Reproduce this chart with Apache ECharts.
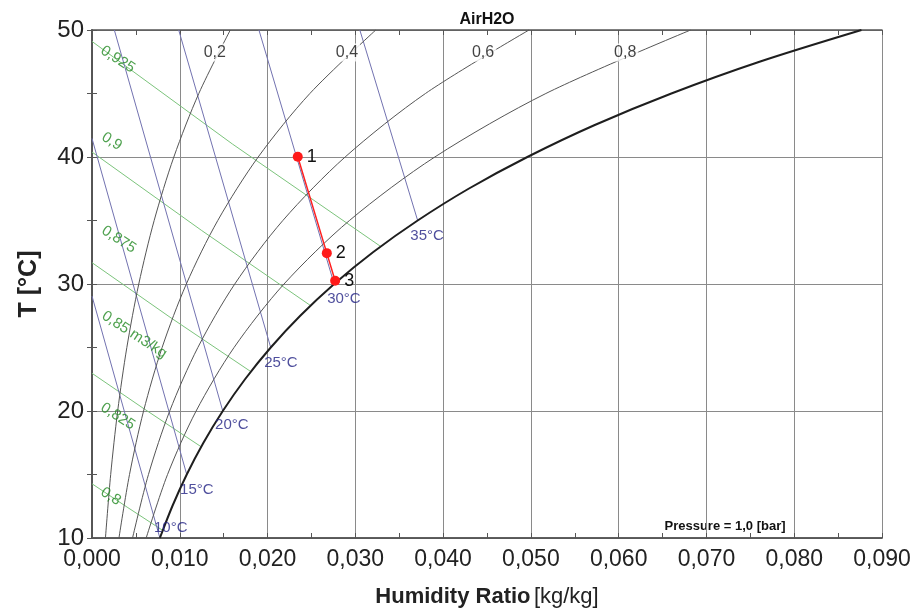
<!DOCTYPE html>
<html><head><meta charset="utf-8">
<script src="https://cdn.jsdelivr.net/npm/echarts@6/dist/echarts.min.js"></script>
<style>html,body{margin:0;padding:0;background:#fff}#c{width:916px;height:615px}</style>
</head><body><div id="c"></div><script>
// ---- axis ticks ----
const xTickLabels = ['0,000','0,010','0,020','0,030','0,040','0,050','0,060','0,070','0,080','0,090'];
const yTickLabels = ['10','20','30','40','50'];

// ---- saturation curve (RH = 1.0) ----
const satT = [10,12.5,15,17.5,20,22.5,25,27.5,30,32.5,35,37.5,40,42.5,45,47.5,50];
const satW = [0.007734,0.009150,0.010794,0.012696,0.014898,0.017433,0.020362,0.023722,0.027586,0.032011,0.037101,0.042902,0.049597,0.057214,0.066003,0.076045,0.087658];

// ---- relative humidity curves ----
const rhT = [10,15,20,25,30,35,40,45,50];
const rh20W = [0.001532,0.002129,0.002924,0.003969,0.005328,0.007082,0.009324,0.012168,0.015755];
const rh40W = [0.003071,0.004273,0.005875,0.007988,0.010748,0.014328,0.018933,0.024821,0.032329];
const rh60W = [0.004618,0.006432,0.008854,0.012059,0.016263,0.021742,0.028838,0.037989,0.049788];
const rh80W = [0.006172,0.008605,0.011862,0.016184,0.021875,0.029331,0.039055,0.051705,0.068203];
const rhLabelText = ['0,2','0,4','0,6','0,8'];
const rhLabelW = [0.01399,0.02904,0.04455,0.06074];
const rhLabelT = [48.23,48.23,48.23,48.23];

// ---- wet bulb lines [W, T] ----
const wb10 = [[0.007734,10],[0,29.05]];
const wb15 = [[0.010794,15],[0,41.46]];
const wb20 = [[0.014898,20],[0.002544,50]];
const wb25 = [[0.020362,25],[0.009878,50]];
const wb30 = [[0.027586,30],[0.019019,50]];
const wb35 = [[0.037101,35],[0.030513,50]];
const wbLabelText = ['10°C','15°C','20°C','25°C','30°C','35°C'];
const wbLabelW = [0.00897,0.01194,0.01593,0.02152,0.02870,0.03817];
const wbLabelT = [10.83,13.82,18.94,23.82,28.86,33.82];

// ---- specific volume lines [W, T] ----
const v825 = [[0,14.27],[0.004,12.43],[0.00805,10.6]];
const v850 = [[0,22.97],[0.006,20.14],[0.0124,17.2]];
const v875 = [[0,31.68],[0.009,27.33],[0.0181,23.1]];
const v900 = [[0,40.39],[0.0125,34.21],[0.0249,28.3]];
const v925 = [[0,49.10],[0.016,41.02],[0.0329,32.95]];
const volLabelText = ['0,925','0,9','0,875','0,85 m3/kg','0,825','0,8'];
const volLabelW = [0.00293,0.00225,0.00304,0.00483,0.00293,0.00213];
const volLabelT = [47.68,41.22,33.5,26.0,19.57,13.27];

// ---- process states ----
const stateNames = ['1','2','3'];
const stateW = [0.02344,0.02675,0.0277];
const stateT = [40.02,32.43,30.26];

const FONT = '"Liberation Sans", Arial, sans-serif';
const zip = (w, t) => w.map((v, i) => [v, t[i]]);

function curve(data, color, width, smooth) {
  return { type: 'line', data, smooth: smooth ? 0.3 : false, symbol: 'none', silent: true,
    lineStyle: { color, width }, xAxisIndex: 0, yAxisIndex: 0, z: 3 };
}
function labels(texts, ws, ts, style) {
  return { type: 'scatter', symbolSize: 1, itemStyle: { color: 'rgba(0,0,0,0)' }, silent: true, z: 6,
    data: texts.map((s, i) => ({ value: [ws[i], ts[i]], name: s })),
    label: Object.assign({ show: true, position: 'inside', formatter: p => p.name, fontFamily: FONT }, style) };
}

const chart = echarts.init(document.getElementById('c'), null, { renderer: 'canvas' });
const gridColor = '#8a8a8a';
const axisLineStyle = { show: true, lineStyle: { color: '#555', width: 1.5 } };
const tickIn = { show: true, inside: true, length: 5, lineStyle: { color: '#555' } };
function xTickAxis(pos) {
  return { type: 'value', min: 0, max: 0.09, interval: 0.005, position: pos,
    axisLine: axisLineStyle, axisTick: tickIn, axisLabel: { show: false }, splitLine: { show: false } };
}
function yTickAxis(pos) {
  return { type: 'value', min: 10, max: 50, interval: 5, position: pos,
    axisLine: axisLineStyle, axisTick: tickIn, axisLabel: { show: false }, splitLine: { show: false } };
}
chart.setOption({
  animation: false,
  backgroundColor: '#fff',
  grid: { left: 92, right: 34, top: 30, bottom: 77, containLabel: false },
  xAxis: [
    { type: 'value', min: 0, max: 0.09, interval: 0.01, position: 'bottom',
      axisLine: axisLineStyle, axisTick: { show: false },
      splitLine: { show: true, lineStyle: { color: gridColor, width: 1 } },
      axisLabel: { formatter: v => xTickLabels[Math.round(v / 0.01)], fontFamily: FONT, fontSize: 23, color: '#222', margin: 10 },
      name: '{b|Humidity Ratio} {n|[kg/kg]}', nameLocation: 'middle', nameGap: 48,
      nameTextStyle: { rich: { b: { fontFamily: FONT, fontSize: 22, fontWeight: 'bold', color: '#222' },
                               n: { fontFamily: FONT, fontSize: 22, color: '#222' } } } },
    xTickAxis('top'), xTickAxis('bottom')
  ],
  yAxis: [
    { type: 'value', min: 10, max: 50, interval: 10, position: 'left',
      axisLine: axisLineStyle, axisTick: { show: false },
      splitLine: { show: true, lineStyle: { color: gridColor, width: 1 } },
      axisLabel: { formatter: v => yTickLabels[Math.round((v - 10) / 10)], fontFamily: FONT, fontSize: 24, color: '#222', margin: 8 },
      name: 'T [°C]', nameLocation: 'middle', nameGap: 50, nameRotate: 90,
      nameTextStyle: { fontFamily: FONT, fontSize: 25, fontWeight: 'bold', color: '#222' } },
    yTickAxis('right'), yTickAxis('left')
  ],
  graphic: [
    { type: 'text', x: 487, y: 12, style: { text: 'AirH2O', font: 'bold 16px ' + FONT, fill: '#111', textAlign: 'center' } },
    { type: 'text', x: 725, y: 520, style: { text: 'Pressure = 1,0 [bar]', font: 'bold 13px ' + FONT, fill: '#111', textAlign: 'center' } }
  ],
  series: [
    curve(v825, '#7cc47c', 1), curve(v850, '#7cc47c', 1), curve(v875, '#7cc47c', 1),
    curve(v900, '#7cc47c', 1), curve(v925, '#7cc47c', 1),
    curve(wb10, '#7272b0', 1), curve(wb15, '#7272b0', 1), curve(wb20, '#7272b0', 1),
    curve(wb25, '#7272b0', 1), curve(wb30, '#7272b0', 1), curve(wb35, '#7272b0', 1),
    curve(zip(rh20W, rhT), '#555', 1, true), curve(zip(rh40W, rhT), '#555', 1, true),
    curve(zip(rh60W, rhT), '#555', 1, true), curve(zip(rh80W, rhT), '#555', 1, true),
    curve(zip(satW, satT), '#1e1e1e', 2, true),
    labels(rhLabelText, rhLabelW, rhLabelT, { fontSize: 16, color: '#111', backgroundColor: '#fff', padding: [1, 2] }),
    labels(wbLabelText, wbLabelW, wbLabelT, { fontSize: 15, color: '#232385' }),
    labels(volLabelText, volLabelW, volLabelT, { fontSize: 15, color: '#238a23', rotate: -33 }),
    { type: 'line', data: zip(stateW, stateT).map((v, i) => ({ value: v, name: stateNames[i] })),
      symbol: 'circle', symbolSize: 10, z: 8, silent: true,
      lineStyle: { color: '#ff2020', width: 1.5 }, itemStyle: { color: '#ff1a1a' },
      label: { show: true, position: 'right', distance: 4, formatter: p => p.name, fontFamily: FONT, fontSize: 18, color: '#111' } }
  ]
});
</script></body></html>
